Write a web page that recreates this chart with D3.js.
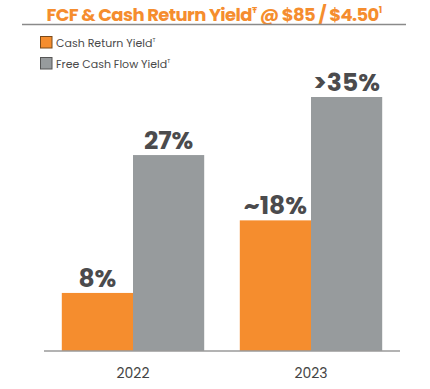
<!DOCTYPE html>
<html><head><meta charset="utf-8">
<script src="https://cdn.jsdelivr.net/npm/d3@7"></script>
<style>body{margin:0;background:#fff}svg{display:block}</style>
</head><body>
<svg id="c" width="430" height="389"></svg>
<script>
const categories = ["2022", "2023"];
const seriesNames = ["Cash Return Yield", "Free Cash Flow Yield"];
const cashReturn = [8, 18];
const fcfYield = [27, 35];
const valueLabels = [["8%", "~18%"], ["27%", ">35%"]];
const colors = ["#F58D2E", "#979B9D"];

const svg = d3.select("#c");
const font = "Poppins, 'Open Sans', 'DejaVu Sans', sans-serif";

// title
const t = svg.append("text").attr("x", 214).attr("y", 21).attr("text-anchor", "middle")
  .attr("font-family", font).attr("font-weight", 700).attr("font-size", 18)
  .attr("letter-spacing", -0.6).attr("fill", "#F58D2E");
t.append("tspan").text("FCF & Cash Return Yield");
t.append("tspan").attr("font-size", 9).attr("dy", -8).text("Ŧ");
t.append("tspan").attr("dy", 8).text(" @ $85 / $4.50");
t.append("tspan").attr("font-size", 9).attr("dy", -8).text("1");
svg.append("line").attr("x1", 22).attr("x2", 406).attr("y1", 24.5).attr("y2", 24.5)
  .attr("stroke", "#8a8a8a").attr("stroke-width", 1.5);

// legend
seriesNames.forEach((s, i) => {
  const y = 36 + i * 21;
  svg.append("rect").attr("x", 40.5).attr("y", y + 0.5).attr("width", 11.5).attr("height", 11.5)
    .attr("fill", colors[i]).attr("stroke", i === 0 ? "#7a4a1a" : "#555").attr("stroke-width", 1);
  const lt = svg.append("text").attr("x", 56).attr("y", y + 11).attr("font-family", font)
    .attr("font-size", 11).attr("fill", "#4a4a4a");
  lt.append("tspan").text(s);
  lt.append("tspan").attr("font-size", 5.5).attr("dy", -5).text("T");
});

const x0 = d3.scaleBand().domain(categories).range([44, 400]).paddingInner(0.2).paddingOuter(0.1);
const x1 = d3.scaleBand().domain([0, 1]).range([0, x0.bandwidth()]);
const y = d3.scaleLinear().domain([0, 35]).range([351, 97]);

const series = [cashReturn, fcfYield];
categories.forEach((c, ci) => {
  series.forEach((vals, si) => {
    const bx = x0(c) + x1(si);
    svg.append("rect").attr("x", bx).attr("y", y(vals[ci])).attr("width", x1.bandwidth())
      .attr("height", y(0) - y(vals[ci])).attr("fill", colors[si]);
    svg.append("text").attr("x", bx + x1.bandwidth() / 2).attr("y", y(vals[ci]) - 6)
      .attr("text-anchor", "middle").attr("font-family", font).attr("font-weight", 700)
      .attr("font-size", 25).attr("fill", "#4b4b4d").text(valueLabels[si][ci]);
  });
});

// axis
const ax = svg.append("g").attr("transform", "translate(0,351)")
  .call(d3.axisBottom(x0).tickSize(0).tickPadding(17).tickSizeOuter(0));
ax.select(".domain").attr("stroke", "#9a9a9a").attr("stroke-width", 1.5).attr("d", "M44,0H400");
ax.selectAll("text").attr("font-family", font).attr("font-size", 14).attr("fill", "#444");
</script>
</body></html>
